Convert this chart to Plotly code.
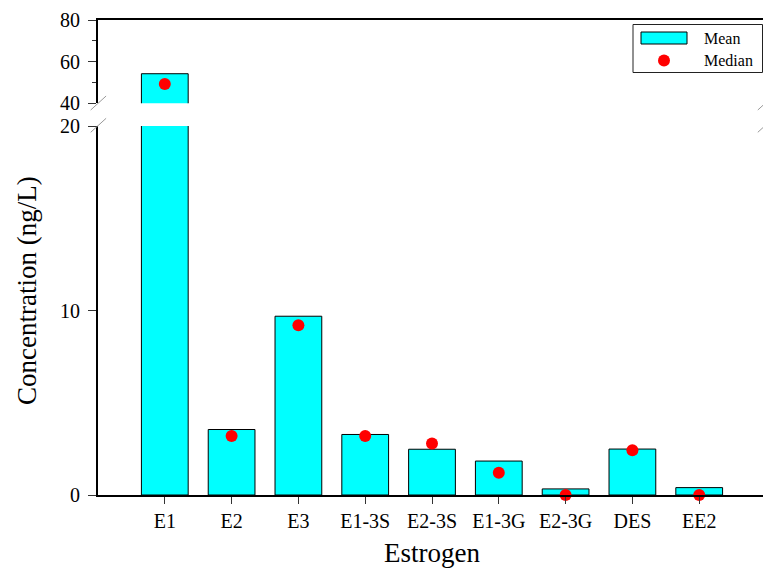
import plotly.graph_objects as go

# Estrogen concentrations (ng/L)
estrogens = ["E1", "E2", "E3", "E1-3S", "E2-3S", "E1-3G", "E2-3G", "DES", "EE2"]
mean_vals = [54.2, 3.55, 9.69, 3.28, 2.48, 1.84, 0.33, 2.49, 0.40]
median_vals = [49.3, 3.2, 9.2, 3.2, 2.79, 1.21, 0.0, 2.42, 0.0]

# broken axis: lower and upper value ranges
low_range = [0, 20]
high_range = [40, 80]
low_ticks = [0, 10, 20]
high_ticks = [40, 60, 80]

FONT = "Liberation Serif, Times New Roman, serif"
W, H = 763, 568
ML, MR, MT, MB = 98, 0, 20, 73
PW, PH = W - ML - MR, H - MT - MB


def px(x):
    return (x - ML) / PW


def py(y):
    return (H - MB - y) / PH


low_dom = [0, py(126)]
high_dom = [py(103.3), 1]

bar_style = dict(color="#00FFFF", line=dict(color="#000000", width=1))
dot_style = dict(color="#FF0000", size=12)

fig = go.Figure()
for xa, ya, rng in [("x", "y", low_range), ("x2", "y2", high_range)]:
    fig.add_trace(go.Bar(x=estrogens, y=mean_vals, width=0.7, marker=bar_style,
                         xaxis=xa, yaxis=ya, showlegend=False))
    mx = [c for c, v in zip(estrogens, median_vals) if rng[0] <= v <= rng[1]]
    my = [v for v in median_vals if rng[0] <= v <= rng[1]]
    fig.add_trace(go.Scatter(x=mx, y=my, mode="markers", marker=dot_style,
                             cliponaxis=False, xaxis=xa, yaxis=ya, showlegend=False))

xrange = [-1, -1 + PW / 66.8]
tick_font = dict(family=FONT, size=20, color="black")

fig.update_layout(
    width=W, height=H,
    margin=dict(l=ML, r=MR, t=MT, b=MB),
    paper_bgcolor="white", plot_bgcolor="white",
    font=dict(family=FONT, color="black"),
    bargap=0.3,
    xaxis=dict(domain=[0, 1], anchor="y", range=xrange, showline=True, linewidth=2,
               linecolor="black", ticks="outside", ticklen=7, tickwidth=1,
               tickcolor="#333", tickfont=tick_font, showgrid=False, zeroline=False),
    xaxis2=dict(domain=[0, 1], anchor="y2", matches="x", side="top", showline=True,
                linewidth=2, linecolor="black", ticks="", showticklabels=False,
                showgrid=False, zeroline=False),
    yaxis=dict(domain=low_dom, anchor="x", range=low_range, tickvals=low_ticks,
               showline=True, linewidth=2, linecolor="black", ticks="outside",
               ticklen=8, tickwidth=1, tickcolor="#333", tickfont=tick_font,
               showgrid=False, zeroline=False, ticklabelstandoff=4),
    yaxis2=dict(domain=high_dom, anchor="x2", range=high_range, tickvals=high_ticks,
                showline=True, linewidth=2, linecolor="black", ticks="outside",
                ticklen=8, tickwidth=1, tickcolor="#333", tickfont=tick_font,
                showgrid=False, zeroline=False, ticklabelstandoff=4,
                minor=dict(tickvals=[50, 70], ticks="outside", ticklen=4,
                           tickwidth=1, tickcolor="#333")),
)

shapes = []
# break marks on both sides of the gap
for cx in (98.4, 765.5):
    for cy in (103.0, 125.3):
        shapes.append(dict(type="line", xref="paper", yref="paper",
                           x0=px(cx - 7.7), y0=py(cy + 7), x1=px(cx + 7.7), y1=py(cy - 7),
                           line=dict(color="#999", width=1)))

# legend box
shapes.append(dict(type="rect", xref="paper", yref="paper",
                   x0=px(633), y0=py(72.5), x1=px(762.5), y1=py(24.5),
                   line=dict(color="#222", width=1), fillcolor="white"))
shapes.append(dict(type="rect", xref="paper", yref="paper",
                   x0=px(641), y0=py(44), x1=px(687), y1=py(32),
                   line=dict(color="#000", width=1), fillcolor="#00FFFF"))
shapes.append(dict(type="circle", xref="paper", yref="paper",
                   x0=px(658), y0=py(66.5), x1=px(670), y1=py(54.5),
                   line=dict(color="#FF0000", width=0), fillcolor="#FF0000"))
fig.update_layout(shapes=shapes)

annotations = [
    dict(text="Mean", x=px(702), y=py(38), xref="paper", yref="paper",
         xanchor="left", yanchor="middle", showarrow=False,
         font=dict(family=FONT, size=16, color="black")),
    dict(text="Median", x=px(702), y=py(60), xref="paper", yref="paper",
         xanchor="left", yanchor="middle", showarrow=False,
         font=dict(family=FONT, size=16, color="black")),
    dict(text="Estrogen", x=px(432), y=py(553), xref="paper", yref="paper",
         xanchor="center", yanchor="middle", showarrow=False,
         font=dict(family=FONT, size=27, color="black")),
    dict(text="Concentration (ng/L)", x=px(27), y=py(291), xref="paper", yref="paper",
         xanchor="center", yanchor="middle", showarrow=False, textangle=-90,
         font=dict(family=FONT, size=27, color="black")),
]
fig.update_layout(annotations=annotations)

fig.write_html("out.html")
